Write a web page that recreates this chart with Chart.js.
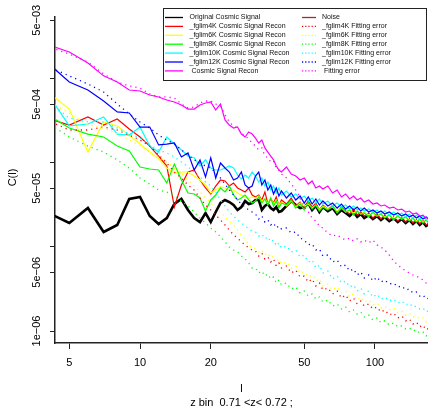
<!DOCTYPE html>
<html>
<head>
<meta charset="utf-8">
<script src="https://cdn.jsdelivr.net/npm/chart.js@4/dist/chart.umd.min.js"></script>
<style>
  html, body { margin: 0; padding: 0; background: #fff; overflow: hidden; }
  #chart { display: block; }
</style>
</head>
<body>
<canvas id="chart" width="428" height="409"></canvas>
<script>
// multipole bins
const ells = [4,5,6,7,8,9,10,11,12,13,14,15,16,17,18,19,20,21,22,23,24,25,26,27,28,29,30,
  31,32,33,34,35,36,37,38,39,40,42,44,46,48,50,52,54,56,58,60,63,66,69,72,75,78,81,84,87,90,
  94,98,102,106,110,115,120,125,130,135,140,145,150,155,160,165,170];

const original = [2.61e-5,1.93e-5,2.91e-5,1.51e-5,1.83e-5,3.73e-5,3.94e-5,2.34e-5,1.88e-5,2.21e-5,3.25e-5,3.73e-5,2.76e-5,2.21e-5,1.98e-5,2.54e-5,1.98e-5,2.61e-5,3.34e-5,3.63e-5,3.43e-5,3.16e-5,2.76e-5,2.99e-5,3.53e-5,3.25e-5,3.34e-5,
  3.63e-5,3.63e-5,2.76e-5,3.08e-5,3.25e-5,2.91e-5,2.76e-5,2.99e-5,2.61e-5,2.68e-5,3.08e-5,3.53e-5,3.16e-5,2.91e-5,2.99e-5,3.34e-5,2.76e-5,3.08e-5,2.61e-5,2.99e-5,
  2.68e-5,2.91e-5,2.47e-5,2.76e-5,2.54e-5,2.34e-5,2.61e-5,2.28e-5,2.47e-5,2.21e-5,2.40e-5,2.15e-5,2.34e-5,2.10e-5,2.28e-5,2.04e-5,2.21e-5,1.98e-5,2.15e-5,1.93e-5,2.10e-5,1.88e-5,2.04e-5,1.83e-5,1.98e-5,1.78e-5,1.88e-5];
const noise = [];
const recon4K = [3.43e-4,2.83e-4,3.53e-4,2.83e-4,3.34e-4,2.54e-4,2.04e-4,1.59e-4,1.21e-4,9.21e-5,2.99e-5,5.47e-5,7.81e-5,8.25e-5,6.27e-5,5.04e-5,4.28e-5,5.32e-5,6.27e-5,6.11e-5,5.32e-5,5.78e-5,5.04e-5,4.77e-5,4.52e-5,5.04e-5,4.16e-5,
  3.94e-5,4.16e-5,3.63e-5,4.52e-5,3.25e-5,3.73e-5,3.34e-5,3.94e-5,3.08e-5,3.63e-5,3.25e-5,3.83e-5,3.08e-5,3.43e-5,2.91e-5,3.53e-5,2.99e-5,3.34e-5,2.76e-5,3.16e-5,
  2.83e-5,3.08e-5,2.61e-5,2.99e-5,2.68e-5,2.47e-5,2.83e-5,2.40e-5,2.61e-5,2.34e-5,2.54e-5,2.21e-5,2.47e-5,2.15e-5,2.40e-5,2.10e-5,2.28e-5,2.04e-5,2.21e-5,1.98e-5,2.15e-5,1.93e-5,2.10e-5,1.88e-5,2.04e-5,1.83e-5,1.93e-5];
const recon6K = [7.20e-4,4.39e-4,1.35e-4,3.08e-4,2.76e-4,2.15e-4,1.68e-4,1.35e-4,1.12e-4,8.72e-5,7.60e-5,7.81e-5,7.81e-5,7.00e-5,6.27e-5,5.47e-5,4.39e-5,4.77e-5,5.18e-5,5.04e-5,4.77e-5,4.77e-5,4.39e-5,4.16e-5,3.94e-5,3.83e-5,3.94e-5,
  3.83e-5,4.05e-5,3.53e-5,3.73e-5,3.34e-5,3.83e-5,3.25e-5,3.63e-5,3.16e-5,3.43e-5,3.08e-5,3.53e-5,2.99e-5,3.34e-5,3.08e-5,3.25e-5,2.91e-5,3.16e-5,2.76e-5,3.08e-5,
  2.83e-5,2.99e-5,2.68e-5,2.91e-5,2.61e-5,2.76e-5,2.54e-5,2.68e-5,2.47e-5,2.61e-5,2.40e-5,2.54e-5,2.34e-5,2.47e-5,2.28e-5,2.40e-5,2.21e-5,2.34e-5,2.15e-5,2.28e-5,2.10e-5,2.21e-5,2.04e-5,2.15e-5,1.98e-5,2.10e-5,1.98e-5];
const recon8K = [3.83e-4,2.61e-4,2.21e-4,2.04e-4,1.59e-4,1.39e-4,8.96e-5,8.48e-5,8.25e-5,5.78e-5,9.73e-5,6.27e-5,4.39e-5,4.28e-5,3.83e-5,2.68e-5,3.63e-5,4.16e-5,5.04e-5,4.52e-5,5.32e-5,4.16e-5,3.63e-5,3.83e-5,4.16e-5,3.63e-5,3.34e-5,
  3.53e-5,3.94e-5,3.34e-5,3.73e-5,3.16e-5,3.83e-5,3.08e-5,3.53e-5,2.91e-5,3.34e-5,3.16e-5,3.63e-5,2.91e-5,3.25e-5,2.76e-5,3.43e-5,2.83e-5,3.16e-5,2.68e-5,2.99e-5,
  2.76e-5,3.08e-5,2.54e-5,2.91e-5,2.61e-5,2.76e-5,2.40e-5,2.68e-5,2.47e-5,2.54e-5,2.28e-5,2.61e-5,2.34e-5,2.47e-5,2.21e-5,2.40e-5,2.10e-5,2.34e-5,2.15e-5,2.28e-5,2.04e-5,2.21e-5,1.98e-5,2.15e-5,1.93e-5,2.10e-5,1.88e-5];
const recon10K = [7.00e-4,2.76e-4,2.91e-4,3.53e-4,2.21e-4,2.15e-4,2.68e-4,1.59e-4,1.35e-4,2.04e-4,1.68e-4,1.43e-4,1.21e-4,1.15e-4,9.21e-5,1.09e-4,8.72e-5,8.25e-5,8.25e-5,8.72e-5,9.21e-5,8.72e-5,7.20e-5,6.45e-5,7.20e-5,6.63e-5,7.81e-5,
  7.00e-5,5.94e-5,6.63e-5,5.32e-5,5.94e-5,4.77e-5,5.32e-5,4.39e-5,5.04e-5,4.16e-5,4.64e-5,3.94e-5,4.28e-5,3.73e-5,4.05e-5,3.53e-5,3.83e-5,3.34e-5,3.73e-5,3.25e-5,
  3.53e-5,3.08e-5,3.34e-5,2.99e-5,3.16e-5,2.83e-5,3.08e-5,2.76e-5,2.91e-5,2.68e-5,2.83e-5,2.61e-5,2.76e-5,2.47e-5,2.68e-5,2.40e-5,2.61e-5,2.34e-5,2.54e-5,2.28e-5,2.47e-5,2.21e-5,2.40e-5,2.15e-5,2.34e-5,2.10e-5,2.21e-5];
const recon12K = [1.60e-3,9.21e-4,7.40e-4,5.47e-4,4.05e-4,3.94e-4,2.68e-4,2.68e-4,1.64e-4,1.68e-4,1.73e-4,1.18e-4,1.32e-4,8.25e-5,1.09e-4,6.81e-5,1.15e-4,6.63e-5,1.00e-4,8.72e-5,7.81e-5,6.27e-5,6.63e-5,7.81e-5,5.47e-5,5.04e-5,5.32e-5,
  7.00e-5,7.81e-5,5.47e-5,6.27e-5,4.77e-5,5.47e-5,4.28e-5,5.04e-5,4.05e-5,4.64e-5,3.83e-5,4.39e-5,3.63e-5,4.05e-5,3.34e-5,3.94e-5,3.25e-5,3.73e-5,3.16e-5,3.53e-5,
  3.08e-5,3.34e-5,2.91e-5,3.25e-5,2.83e-5,3.08e-5,2.76e-5,2.99e-5,2.68e-5,2.91e-5,2.61e-5,2.76e-5,2.54e-5,2.68e-5,2.47e-5,2.61e-5,2.40e-5,2.54e-5,2.34e-5,2.47e-5,2.28e-5,2.40e-5,2.21e-5,2.34e-5,2.15e-5,2.28e-5,2.15e-5];
const reconAll = [2.58e-3,2.10e-3,1.55e-3,1.09e-3,9.21e-4,7.40e-4,7.20e-4,6.45e-4,6.11e-4,5.62e-4,5.32e-4,4.90e-4,4.39e-4,4.39e-4,4.90e-4,5.18e-4,5.32e-4,4.28e-4,5.04e-4,3.25e-4,2.83e-4,2.61e-4,2.68e-4,2.21e-4,2.04e-4,2.34e-4,2.21e-4,
  1.98e-4,1.73e-4,1.88e-4,1.51e-4,1.35e-4,1.21e-4,1.09e-4,9.21e-5,8.25e-5,7.81e-5,8.96e-5,7.40e-5,7.00e-5,6.27e-5,6.63e-5,5.62e-5,6.11e-5,5.04e-5,5.32e-5,4.90e-5,
  5.32e-5,4.39e-5,4.77e-5,3.94e-5,4.28e-5,3.73e-5,4.05e-5,3.63e-5,3.83e-5,3.43e-5,3.63e-5,3.25e-5,3.34e-5,3.08e-5,3.16e-5,2.91e-5,2.99e-5,2.76e-5,2.83e-5,2.61e-5,2.68e-5,2.47e-5,2.54e-5,2.34e-5,2.40e-5,2.21e-5,2.28e-5];

const err4K = [3.25e-4,2.47e-4,2.47e-4,2.68e-4,2.47e-4,2.15e-4,1.88e-4,1.59e-4,1.25e-4,1.00e-4,7.81e-5,6.63e-5,5.47e-5,4.77e-5,3.83e-5,3.16e-5,2.76e-5,2.40e-5,2.10e-5,1.83e-5,1.59e-5,1.39e-5,1.28e-5,1.15e-5,1.06e-5,9.73e-6,9.21e-6,
  8.96e-6,7.81e-6,8.48e-6,7.20e-6,7.60e-6,6.63e-6,7.20e-6,5.94e-6,6.45e-6,5.62e-6,5.94e-6,4.90e-6,5.32e-6,4.39e-6,4.52e-6,3.83e-6,4.16e-6,3.43e-6,3.73e-6,3.08e-6,
  3.25e-6,2.76e-6,2.99e-6,2.47e-6,2.68e-6,2.28e-6,2.47e-6,2.10e-6,2.28e-6,1.98e-6,2.10e-6,1.83e-6,1.93e-6,1.68e-6,1.78e-6,1.55e-6,1.64e-6,1.43e-6,1.51e-6,1.32e-6,1.39e-6,1.21e-6,1.28e-6,1.12e-6,1.18e-6,1.03e-6,1.09e-6];
const err6K = [5.62e-4,3.94e-4,2.83e-4,2.61e-4,2.21e-4,1.88e-4,1.59e-4,1.35e-4,1.18e-4,1.03e-4,8.72e-5,7.60e-5,6.27e-5,5.32e-5,4.52e-5,3.83e-5,3.34e-5,2.91e-5,2.61e-5,2.28e-5,2.04e-5,1.83e-5,1.59e-5,1.39e-5,1.21e-5,1.09e-5,9.73e-6,
  9.47e-6,8.72e-6,9.21e-6,8.03e-6,8.48e-6,7.40e-6,7.81e-6,6.63e-6,7.20e-6,6.27e-6,6.63e-6,5.62e-6,5.94e-6,4.90e-6,5.04e-6,4.39e-6,4.64e-6,3.94e-6,4.16e-6,3.43e-6,
  3.63e-6,3.08e-6,3.34e-6,2.83e-6,2.99e-6,2.54e-6,2.76e-6,2.34e-6,2.54e-6,2.21e-6,2.34e-6,2.04e-6,2.15e-6,1.88e-6,1.98e-6,1.78e-6,1.88e-6,1.64e-6,1.73e-6,1.55e-6,1.64e-6,1.47e-6,1.51e-6,1.39e-6,1.43e-6,1.28e-6,1.35e-6];
const err8K = [3.08e-4,2.04e-4,1.59e-4,1.35e-4,1.09e-4,8.72e-5,6.63e-5,5.62e-5,4.77e-5,4.52e-5,4.05e-5,3.53e-5,3.08e-5,2.61e-5,2.21e-5,1.93e-5,1.68e-5,1.51e-5,1.32e-5,1.15e-5,1.00e-5,9.21e-6,8.72e-6,7.81e-6,7.20e-6,6.45e-6,5.62e-6,
  5.62e-6,4.90e-6,5.18e-6,4.52e-6,4.77e-6,4.16e-6,4.39e-6,3.73e-6,4.05e-6,3.53e-6,3.73e-6,3.16e-6,3.34e-6,2.83e-6,2.99e-6,2.61e-6,2.76e-6,2.40e-6,2.54e-6,2.21e-6,
  2.34e-6,1.98e-6,2.10e-6,1.83e-6,1.93e-6,1.68e-6,1.78e-6,1.59e-6,1.68e-6,1.47e-6,1.55e-6,1.35e-6,1.43e-6,1.25e-6,1.32e-6,1.18e-6,1.25e-6,1.12e-6,1.15e-6,1.06e-6,1.09e-6,1.00e-6,1.03e-6,9.47e-7,9.73e-7,8.72e-7,9.21e-7];
const err10K = [5.62e-4,3.43e-4,3.08e-4,3.08e-4,2.61e-4,2.21e-4,1.98e-4,1.64e-4,1.43e-4,1.32e-4,1.18e-4,1.03e-4,8.96e-5,7.81e-5,6.81e-5,5.94e-5,5.32e-5,4.52e-5,3.63e-5,3.08e-5,2.61e-5,2.34e-5,2.10e-5,1.93e-5,1.78e-5,1.64e-5,1.55e-5,
  1.51e-5,1.35e-5,1.43e-5,1.25e-5,1.32e-5,1.15e-5,1.21e-5,1.03e-5,1.12e-5,9.73e-6,1.03e-5,8.72e-6,9.21e-6,7.60e-6,8.03e-6,6.63e-6,7.00e-6,5.62e-6,6.11e-6,4.90e-6,
  5.18e-6,4.16e-6,4.52e-6,3.73e-6,3.94e-6,3.34e-6,3.53e-6,2.99e-6,3.25e-6,2.76e-6,2.99e-6,2.54e-6,2.76e-6,2.40e-6,2.54e-6,2.28e-6,2.40e-6,2.15e-6,2.28e-6,2.04e-6,2.15e-6,1.93e-6,1.98e-6,1.83e-6,1.88e-6,1.68e-6,1.78e-6];
const err12K = [1.43e-3,1.09e-3,8.72e-4,7.00e-4,5.04e-4,3.83e-4,3.08e-4,2.61e-4,2.15e-4,1.88e-4,1.68e-4,1.43e-4,1.25e-4,1.09e-4,1.00e-4,9.21e-5,8.72e-5,7.60e-5,6.63e-5,5.62e-5,4.77e-5,4.16e-5,3.63e-5,3.25e-5,2.99e-5,2.76e-5,2.61e-5,
  2.47e-5,2.15e-5,2.34e-5,1.98e-5,2.10e-5,1.83e-5,1.93e-5,1.68e-5,1.78e-5,1.64e-5,1.68e-5,1.47e-5,1.51e-5,1.28e-5,1.21e-5,1.06e-5,1.09e-5,9.21e-6,9.47e-6,7.81e-6,
  8.03e-6,6.63e-6,7.00e-6,5.78e-6,6.11e-6,5.18e-6,5.47e-6,4.64e-6,5.04e-6,4.28e-6,4.64e-6,3.94e-6,4.39e-6,3.83e-6,4.05e-6,3.63e-6,3.73e-6,3.34e-6,3.43e-6,3.08e-6,3.16e-6,2.83e-6,2.91e-6,2.61e-6,2.68e-6,2.40e-6,2.47e-6];
const errAll = [2.47e-3,1.98e-3,1.59e-3,1.15e-3,9.21e-4,8.25e-4,7.81e-4,6.63e-4,6.11e-4,6.11e-4,5.94e-4,5.04e-4,4.52e-4,4.64e-4,5.18e-4,5.47e-4,5.47e-4,5.04e-4,4.77e-4,3.73e-4,3.08e-4,2.76e-4,2.61e-4,2.28e-4,2.10e-4,1.93e-4,1.73e-4,
  1.59e-4,1.43e-4,1.51e-4,1.21e-4,1.15e-4,1.03e-4,1.06e-4,8.72e-5,8.25e-5,7.40e-5,6.63e-5,5.62e-5,4.77e-5,3.94e-5,2.99e-5,2.61e-5,2.21e-5,2.04e-5,1.78e-5,1.68e-5,
  1.47e-5,1.35e-5,1.39e-5,1.28e-5,1.21e-5,1.28e-5,1.18e-5,1.25e-5,1.15e-5,1.21e-5,1.12e-5,1.21e-5,1.06e-5,1.00e-5,9.21e-6,8.03e-6,6.81e-6,6.11e-6,5.62e-6,5.18e-6,4.90e-6,4.64e-6,4.52e-6,4.28e-6,4.05e-6,3.73e-6,3.53e-6];

const xTicks = [5, 10, 20, 50, 100];
const yTicks = [1e-6, 5e-6, 1e-5, 5e-5, 1e-4, 5e-4, 1e-3, 5e-3];
const yTickLabels = ["1e\u221206", "5e\u221206", "", "5e\u221205", "", "5e\u221204", "", "5e\u221203"];

const legendLeft = ["Original Cosmic Signal", "_fglim4K Cosmic Signal Recon", "_fglim6K Cosmic Signal Recon",
  "_fglim8K Cosmic Signal Recon", "_fglim10K Cosmic Signal Recon", "_fglim12K Cosmic Signal Recon", " Cosmic Signal Recon"];
const legendRight = ["Noise", "_fglim4K Fitting error", "_fglim6K Fitting error", "_fglim8K Fitting error",
  "_fglim10K Fitting error", "_fglim12K Fitting error", " Fitting error"];

const FONT = "'Liberation Sans', Arial, Helvetica, sans-serif";
const DOTS = [1.2, 4];

const toPoints = (vals) => ells.map((l, i) => ({ x: l, y: vals[i] })).filter((p) => p.y != null);

const series = [
  { label: legendLeft[0], data: original, color: "#000000", width: 2.6, dash: [] },
  { label: legendRight[0], data: noise, color: "#a52a2a", width: 1.2, dash: [] },
  { label: legendLeft[1], data: recon4K, color: "#ff0000", width: 1.2, dash: [] },
  { label: legendLeft[2], data: recon6K, color: "#ffff00", width: 1.2, dash: [] },
  { label: legendLeft[3], data: recon8K, color: "#00ff00", width: 1.2, dash: [] },
  { label: legendLeft[4], data: recon10K, color: "#00ffff", width: 1.2, dash: [] },
  { label: legendLeft[5], data: recon12K, color: "#0000ff", width: 1.2, dash: [] },
  { label: legendLeft[6], data: reconAll, color: "#ff00ff", width: 1.2, dash: [] },
  { label: legendRight[1], data: err4K, color: "#ff0000", width: 1.3, dash: DOTS },
  { label: legendRight[2], data: err6K, color: "#ffff00", width: 1.3, dash: DOTS },
  { label: legendRight[3], data: err8K, color: "#00ff00", width: 1.3, dash: DOTS },
  { label: legendRight[4], data: err10K, color: "#00ffff", width: 1.3, dash: DOTS },
  { label: legendRight[5], data: err12K, color: "#0000ff", width: 1.3, dash: DOTS },
  { label: legendRight[6], data: errAll, color: "#ff00ff", width: 1.3, dash: DOTS },
];

// R-style boxed legend in two columns, plus axis titles
const rDecor = {
  id: "rDecor",
  afterDraw(chart) {
    const ctx = chart.ctx;
    const area = chart.chartArea;
    const byLabel = {};
    chart.data.datasets.forEach((d) => (byLabel[d.label] = d));

    ctx.save();
    ctx.fillStyle = "#ffffff";
    ctx.fillRect(163.5, 8.5, 263, 72);
    ctx.strokeStyle = "#222";
    ctx.lineWidth = 1;
    ctx.strokeRect(163.5, 8.5, 263, 72);

    ctx.font = "7px " + FONT;
    ctx.textBaseline = "middle";
    ctx.textAlign = "left";
    const cols = [
      { names: legendLeft, x0: 165, x1: 183, tx: 189.5 },
      { names: legendRight, x0: 302, x1: 316, tx: 322 },
    ];
    cols.forEach((col) => {
      col.names.forEach((name, i) => {
        const d = byLabel[name];
        const y = 17.5 + i * 8.9;
        ctx.strokeStyle = d.borderColor;
        ctx.lineWidth = 1.3;
        ctx.setLineDash(d.borderDash.length ? [1.2, 2] : []);
        ctx.beginPath();
        ctx.moveTo(col.x0, y);
        ctx.lineTo(col.x1, y);
        ctx.stroke();
        ctx.setLineDash([]);
        ctx.fillStyle = "#111";
        ctx.fillText(name, col.tx, y);
      });
    });

    const cx = (area.left + area.right) / 2;
    ctx.font = "11px " + FONT;
    ctx.fillStyle = "#000";
    ctx.textAlign = "center";
    ctx.fillText("l", cx, 389);
    ctx.fillText("z bin  0.71 <z< 0.72 ;", cx, 402.5);
    ctx.translate(12.5, 177.5);
    ctx.rotate(-Math.PI / 2);
    ctx.fillText("C(l)", 0, 0);
    ctx.restore();
  },
};

new Chart(document.getElementById("chart"), {
  type: "line",
  data: {
    datasets: series.map((s, i) => ({
      label: s.label,
      data: toPoints(s.data),
      borderColor: s.color,
      backgroundColor: s.color,
      borderWidth: s.width,
      borderDash: s.dash,
      pointRadius: 0,
      fill: false,
      tension: 0,
      order: 100 - i,
    })),
  },
  options: {
    responsive: false,
    devicePixelRatio: 1,
    animation: false,
    layout: { padding: { top: 17, right: 0, bottom: 0, left: 0 } },
    plugins: { legend: { display: false }, tooltip: { enabled: false } },
    scales: {
      x: {
        type: "logarithmic",
        bounds: "data",
        min: 4.347,
        max: 168.1,
        afterFit: (s) => { s.height = 66; },
        afterBuildTicks: (s) => { s.ticks = xTicks.map((v) => ({ value: v })); },
        ticks: {
          autoSkip: false, maxRotation: 0, minRotation: 0, padding: 7,
          color: "#000", font: { size: 11, family: FONT },
          callback: (v) => String(v),
        },
        grid: { display: true, drawOnChartArea: false, drawTicks: true, tickLength: 6, color: "#222", lineWidth: 1 },
        border: { display: true, color: "#222", width: 1.5 },
      },
      y: {
        type: "logarithmic",
        bounds: "data",
        min: 7.197e-7,
        max: 5.47e-3,
        afterFit: (s) => { s.width = 55; },
        afterBuildTicks: (s) => { s.ticks = yTicks.map((v) => ({ value: v })); },
        ticks: {
          autoSkip: false, minRotation: 90, maxRotation: 90, crossAlign: "center", padding: -2.5,
          color: "#000", font: { size: 11, family: FONT },
          callback: (v) => yTickLabels[yTicks.indexOf(v)],
        },
        grid: { display: true, drawOnChartArea: false, drawTicks: true, tickLength: 5, color: "#222", lineWidth: 1 },
        border: { display: true, color: "#222", width: 1.5 },
      },
    },
  },
  plugins: [rDecor],
});
</script>
</body>
</html>
